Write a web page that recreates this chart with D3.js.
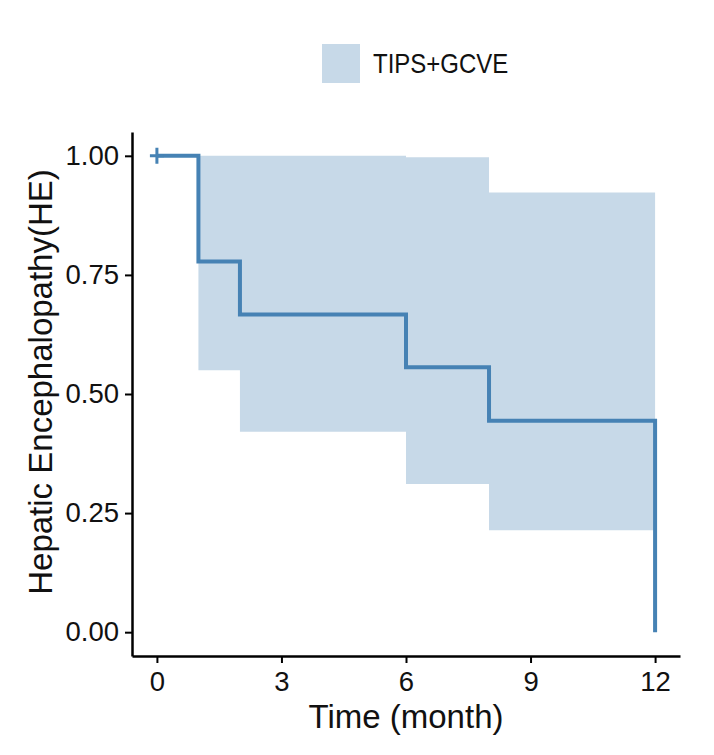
<!DOCTYPE html>
<html>
<head>
<meta charset="utf-8">
<script src="https://cdn.jsdelivr.net/npm/d3@7"></script>
<style>
  body { margin: 0; background: #fff; }
  text { font-family: "Liberation Sans", Arial, sans-serif; fill: #111; }
</style>
</head>
<body>
<div id="chart"></div>
<script>
// survival steps (time in months)
var times    = [0, 1, 2, 6, 8, 12];
var survival = [1.0, 0.778, 0.667, 0.556, 0.444, 0.0];
// confidence band, step-after
var bandUpper = [1.0, 1.0, 1.0, 0.997, 0.923, 0.923];
var bandLower = [1.0, 0.550, 0.421, 0.311, 0.214, 0.214];
// censored points
var censorTimes = [0];
var censorSurv  = [1.0];

var xTicks = [0, 3, 6, 9, 12];
var yTicks = [0, 0.25, 0.5, 0.75, 1];
var groupName = "TIPS+GCVE";

var width = 714, height = 755;
var margin = {top: 132, right: 34, bottom: 99, left: 132};

var svg = d3.select("#chart")
  .append("svg")
    .attr("width", width)
    .attr("height", height);

var x = d3.scaleLinear()
    .domain([-0.6, 12.6])
    .range([margin.left, width - margin.right]);

var y = d3.scaleLinear()
    .domain([-0.05, 1.05])
    .range([height - margin.bottom, margin.top]);

var lineColor = "#4682B4";
var bandColor = "#C7D9E8";

var steps = times.map(function(t, i) {
  return {t: t, s: survival[i], hi: bandUpper[i], lo: bandLower[i]};
});

// band
var area = d3.area()
    .curve(d3.curveStepAfter)
    .x(function(d) { return x(d.t); })
    .y0(function(d) { return y(d.lo); })
    .y1(function(d) { return y(d.hi); });

svg.append("path")
    .datum(steps)
    .attr("d", area)
    .attr("fill", bandColor);

// survival curve
var line = d3.line()
    .curve(d3.curveStepAfter)
    .x(function(d) { return x(d.t); })
    .y(function(d) { return y(d.s); });

svg.append("path")
    .datum(steps)
    .attr("d", line)
    .attr("fill", "none")
    .attr("stroke", lineColor)
    .attr("stroke-width", 4);

// censor marks
svg.append("g")
  .selectAll("path")
  .data(censorTimes)
  .enter()
  .append("path")
    .attr("d", function(t, i) {
      var cx = x(t), cy = y(censorSurv[i]);
      return "M" + (cx - 7) + "," + cy + "h14M" + cx + "," + (cy - 8) + "v16";
    })
    .attr("stroke", lineColor)
    .attr("stroke-width", 3)
    .attr("fill", "none");

// axes
var xAxis = svg.append("g")
    .attr("transform", "translate(0," + (height - margin.bottom) + ")")
    .call(d3.axisBottom(x).tickValues(xTicks).tickSize(7).tickSizeOuter(0).tickPadding(8));

var yAxis = svg.append("g")
    .attr("transform", "translate(" + margin.left + ",0)")
    .call(d3.axisLeft(y).tickValues(yTicks).tickFormat(d3.format(".2f")).tickSize(7).tickSizeOuter(0).tickPadding(6));

[xAxis, yAxis].forEach(function(g) {
  g.select(".domain").attr("stroke", "#000").attr("stroke-width", 2.5);
  g.selectAll(".tick line").attr("stroke", "#000").attr("stroke-width", 2);
  g.selectAll(".tick text")
    .attr("font-size", "27.5px")
    .attr("font-family", "Liberation Sans, Arial, sans-serif")
    .attr("fill", "#111");
});

// axis titles
svg.append("text")
    .attr("x", (margin.left + width - margin.right) / 2)
    .attr("y", 728)
    .attr("text-anchor", "middle")
    .attr("font-size", "33px")
    .text("Time (month)");

svg.append("text")
    .attr("transform", "translate(52," + (y(0.5) - 12) + ") rotate(-90)")
    .attr("text-anchor", "middle")
    .attr("font-size", "33px")
    .text("Hepatic Encephalopathy(HE)");

// legend
var legend = svg.append("g");
legend.append("rect")
    .attr("x", 322)
    .attr("y", 44)
    .attr("width", 38)
    .attr("height", 39)
    .attr("fill", bandColor);
legend.append("text")
    .attr("transform", "translate(373,72.5) scale(1,1.12)")
    .attr("font-size", "24px")
    .text(groupName);
</script>
</body>
</html>
